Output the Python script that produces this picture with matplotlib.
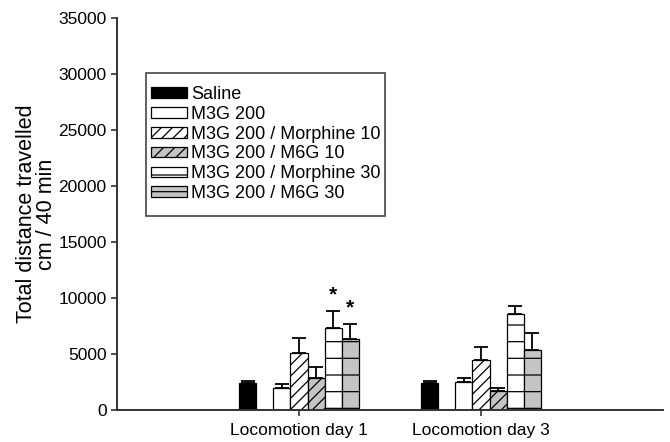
import matplotlib
matplotlib.use("Agg")
import matplotlib.pyplot as plt
from matplotlib.patches import Rectangle
import numpy as np

plt.rcParams['font.family'] = ['Liberation Sans', 'DejaVu Sans']
plt.rcParams['hatch.linewidth'] = 0.9

days = ["Locomotion day 1", "Locomotion day 3"]
groups = ["Saline", "M3G 200", "M3G 200 / Morphine 10", "M3G 200 / M6G 10",
          "M3G 200 / Morphine 30", "M3G 200 / M6G 30"]
means = {
    "Saline": [2400, 2400],
    "M3G 200": [2000, 2500],
    "M3G 200 / Morphine 10": [5100, 4500],
    "M3G 200 / M6G 10": [2900, 1700],
    "M3G 200 / Morphine 30": [7350, 8550],
    "M3G 200 / M6G 30": [6300, 5400],
}
errors = {
    "Saline": [200, 200],
    "M3G 200": [300, 400],
    "M3G 200 / Morphine 10": [1300, 1150],
    "M3G 200 / M6G 10": [950, 250],
    "M3G 200 / Morphine 30": [1500, 700],
    "M3G 200 / M6G 30": [1350, 1450],
}
significant = {
    "M3G 200 / Morphine 30": [True, False],
    "M3G 200 / M6G 30": [True, False],
}
yticks = [0, 5000, 10000, 15000, 20000, 25000, 30000, 35000]

styles = {
    "Saline": dict(color="black", hatch=None),
    "M3G 200": dict(color="white", hatch=None),
    "M3G 200 / Morphine 10": dict(color="white", hatch="///"),
    "M3G 200 / M6G 10": dict(color="#c4c4c4", hatch="///"),
    "M3G 200 / Morphine 30": dict(color="white", hatch="-"),
    "M3G 200 / M6G 30": dict(color="#c4c4c4", hatch="-"),
}
slots = [0, 2, 3, 4, 5, 6]

W, H = 670, 442
fig = plt.figure(figsize=(W/100, H/100), dpi=100)
ax = fig.add_axes([117/W, 1-410/H, (663-117)/W, (410-18)/H])

centers = np.arange(1, len(days) + 1)
w = 0.0935
axis_col = "#333333"
for g, s in zip(groups, slots):
    xs = centers + (s - 3) * w
    st = styles[g]
    ax.bar(xs, means[g], width=w, facecolor=st["color"], edgecolor="black",
           linewidth=0.9, hatch=st["hatch"], label=g, zorder=2)
    ax.errorbar(xs, means[g], yerr=[np.zeros(len(days)), errors[g]], fmt="none",
                ecolor="black", elinewidth=1.3, capsize=5, capthick=1.3, zorder=3)
    if g in significant:
        for x, m, e, sig in zip(xs, means[g], errors[g], significant[g]):
            if sig:
                ax.text(x, m + e + 600, "*", ha="center", va="bottom",
                        fontsize=15, fontweight="bold", color="black")

ax.set_xlim(0, 3)
ax.set_ylim(0, 35000)
ax.set_yticks(yticks)
ax.set_yticklabels([str(v) for v in yticks])
ax.set_xticks(centers)
ax.set_xticklabels(days)
for sp in ["top", "right"]:
    ax.spines[sp].set_visible(False)
for sp in ["left", "bottom"]:
    ax.spines[sp].set_linewidth(1.4)
    ax.spines[sp].set_color(axis_col)
ax.tick_params(axis="both", direction="out", length=4, width=1.2, color=axis_col,
               labelcolor="black")
ax.tick_params(axis="y", labelsize=12.5)
ax.tick_params(axis="x", labelsize=12.5, pad=5)
ax.set_ylabel("Total distance travelled\ncm / 40 min", fontsize=15.5, linespacing=0.9,
              labelpad=1)

# legend box
box = Rectangle((146/W, 1-216/H), (385-146)/W, (216-73)/H,
                transform=fig.transFigure, facecolor="white",
                edgecolor="#444444", linewidth=1.2, zorder=4, clip_on=False)
ax.add_patch(box)
leg = ax.legend(loc="center left", bbox_to_anchor=(151/W, 1-144/H),
                bbox_transform=fig.transFigure, fontsize=13, frameon=False,
                borderpad=0, handlelength=2.0, handleheight=0.55, handletextpad=0.22,
                labelspacing=0.16, borderaxespad=0)
leg.set_zorder(5)

fig.savefig("out.png", dpi=100)
